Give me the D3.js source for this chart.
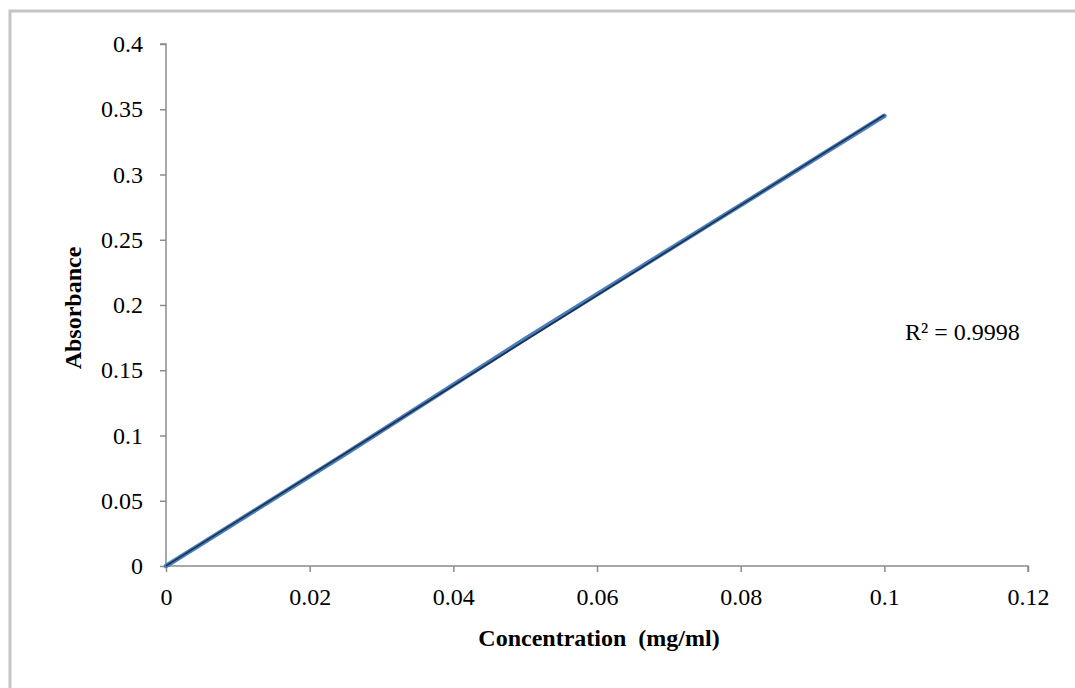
<!DOCTYPE html>
<html>
<head>
<meta charset="utf-8">
<script src="https://cdn.jsdelivr.net/npm/d3@7"></script>
<style>
  html, body { margin: 0; padding: 0; background: #fff; }
  svg { display: block; }
  text { font-family: "Liberation Serif", "Times New Roman", serif; fill: #000; }
</style>
</head>
<body>
<svg id="chart" width="1075" height="688"></svg>
<script>
// Data
const concentration = [0, 0.0125, 0.025, 0.05, 0.1];
const absorbance = [0, 0.043, 0.086, 0.174, 0.345];
const xTicks = [0, 0.02, 0.04, 0.06, 0.08, 0.1, 0.12];
const yTicks = [0, 0.05, 0.1, 0.15, 0.2, 0.25, 0.3, 0.35, 0.4];
const xTitle = "Concentration\u00a0\u00a0(mg/ml)";
const yTitle = "Absorbance";
const r2Label = "R\u00b2 = 0.9998";

const svg = d3.select("#chart");

// outer chart border
svg.append("rect")
  .attr("x", 10).attr("y", 11)
  .attr("width", 1100).attr("height", 700)
  .attr("fill", "none")
  .attr("stroke", "#c4c4c4")
  .attr("stroke-width", 3);

const x = d3.scaleLinear().domain([0, 0.12]).range([166, 1028]);
const y = d3.scaleLinear().domain([0, 0.4]).range([566, 44]);

const axisColor = "#8c8c8c";
const fontSize = 24;

// Y axis
const gy = svg.append("g")
  .attr("transform", `translate(${x(0)},0)`)
  .call(d3.axisLeft(y).tickValues(yTicks).tickSize(6).tickPadding(17)
    .tickFormat(d => String(+d.toFixed(2))));
// X axis
const gx = svg.append("g")
  .attr("transform", `translate(0,${y(0)})`)
  .call(d3.axisBottom(x).tickValues(xTicks).tickSize(6).tickPadding(16)
    .tickFormat(d => String(+d.toFixed(2))));

[gx, gy].forEach(g => {
  g.select(".domain").attr("stroke", axisColor).attr("stroke-width", 1.5);
  g.selectAll(".tick line").attr("stroke", axisColor).attr("stroke-width", 1.5);
  g.selectAll(".tick text")
    .attr("font-family", "Liberation Serif, Times New Roman, serif")
    .attr("font-size", fontSize)
    .attr("fill", "#000");
});
gy.select(".domain").attr("d", `M-6,${y(0.4)}H0V${y(0)}`);
gx.select(".domain").attr("d", `M${x(0)},0H${x(0.12)}V6`);

// Data series line
const pts = concentration.map((c, i) => [c, absorbance[i]]);
svg.append("path")
  .datum(pts)
  .attr("fill", "none")
  .attr("stroke", "#4a7ebb")
  .attr("stroke-width", 4.5)
  .attr("stroke-linejoin", "round")
  .attr("stroke-linecap", "round")
  .attr("d", d3.line().x(d => x(d[0])).y(d => y(d[1])));

// Linear trendline (least squares)
const mx = d3.mean(concentration), my = d3.mean(absorbance);
const slope = d3.sum(pts, d => (d[0] - mx) * (d[1] - my)) / d3.sum(pts, d => (d[0] - mx) ** 2);
const intercept = my - slope * mx;
const xExt = d3.extent(concentration);
svg.append("path")
  .datum(xExt.map(c => [c, intercept + slope * c]))
  .attr("fill", "none")
  .attr("stroke", "#1a2f4f")
  .attr("stroke-width", 1.6)
  .attr("d", d3.line().x(d => x(d[0])).y(d => y(d[1])));

// Axis titles
svg.append("text")
  .attr("x", (x(0) + x(0.12)) / 2 + 2)
  .attr("y", 646)
  .attr("text-anchor", "middle")
  .attr("font-size", fontSize)
  .attr("font-weight", "bold")
  .text(xTitle);

svg.append("text")
  .attr("transform", `translate(81,${(y(0) + y(0.4)) / 2 + 3}) rotate(-90)`)
  .attr("text-anchor", "middle")
  .attr("font-size", fontSize)
  .attr("font-weight", "bold")
  .text(yTitle);

// R² label
svg.append("text")
  .attr("x", 905)
  .attr("y", 340)
  .attr("font-size", fontSize)
  .text(r2Label);
</script>
</body>
</html>
